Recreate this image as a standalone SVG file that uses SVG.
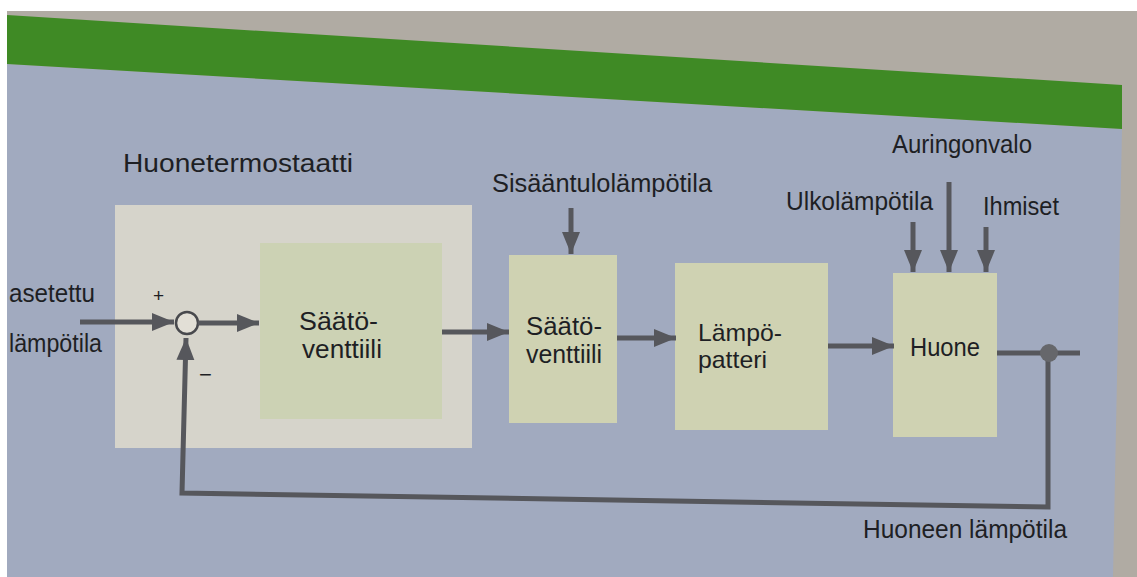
<svg xmlns="http://www.w3.org/2000/svg" width="1137" height="577" viewBox="0 0 1137 577">
<style>
text{font-family:"Liberation Sans",Arial,sans-serif;font-size:25px;fill:#1e1f24}
.ln{fill:none;stroke:#56575c;stroke-width:5}
.box{fill:#cfd2b2}
</style>
<defs>
<marker id="ah" markerUnits="userSpaceOnUse" markerWidth="24" markerHeight="20" refX="22" refY="9" orient="auto">
<path d="M0,0 L22,9 L0,18 Z" fill="#56575c"/>
</marker>
</defs>
<rect width="1137" height="577" fill="#ffffff"/>
<rect x="7" y="11" width="1130" height="566" fill="#b0aba3"/>
<polygon points="7,64 1122,129 1113,577 7,577" fill="#a1aabf"/>
<polygon points="7,15 1122,85 1122,129 7,64" fill="#3f8a25"/>

<g id="termostaatti">
<rect x="115" y="205" width="357" height="243" fill="#d6d4cb"/>
<text x="123" y="172" textLength="230" lengthAdjust="spacingAndGlyphs">Huonetermostaatti</text>
</g>
<g id="saatoventtiili1">
<rect x="260" y="243" width="182" height="176" fill="#ccd2b4"/>
<text x="299" y="330" textLength="79" lengthAdjust="spacingAndGlyphs">Säätö-</text>
<text x="302" y="358" textLength="80" lengthAdjust="spacingAndGlyphs">venttiili</text>
</g>
<g id="summing">
<circle cx="187" cy="323" r="11" fill="#e2dfd6" stroke="#48494d" stroke-width="2.5"/>
<text x="153" y="302" style="font-size:19px">+</text>
<text x="199" y="382" style="font-size:22px">−</text>
</g>
<g id="saatoventtiili2">
<rect class="box" x="509" y="255" width="108" height="168"/>
<text x="526" y="335" textLength="76" lengthAdjust="spacingAndGlyphs">Säätö-</text>
<text x="526" y="363" textLength="76" lengthAdjust="spacingAndGlyphs">venttiili</text>
</g>
<g id="lampopatteri">
<rect class="box" x="675" y="263" width="153" height="167"/>
<text x="698" y="341" style="font-size:24px" textLength="84" lengthAdjust="spacingAndGlyphs">Lämpö-</text>
<text x="698" y="368" style="font-size:24px" textLength="69" lengthAdjust="spacingAndGlyphs">patteri</text>
</g>
<g id="huone">
<rect class="box" x="893" y="273" width="104" height="164"/>
<text x="910" y="356" textLength="70" lengthAdjust="spacingAndGlyphs">Huone</text>
</g>
<g id="labels">
<text x="9" y="302" textLength="86" lengthAdjust="spacingAndGlyphs">asetettu</text>
<text x="9" y="352" textLength="93" lengthAdjust="spacingAndGlyphs">lämpötila</text>
<text x="492" y="192" textLength="220" lengthAdjust="spacingAndGlyphs">Sisääntulolämpötila</text>
<text x="786" y="210" textLength="147" lengthAdjust="spacingAndGlyphs">Ulkolämpötila</text>
<text x="892" y="153" textLength="140" lengthAdjust="spacingAndGlyphs">Auringonvalo</text>
<text x="983" y="215" textLength="76" lengthAdjust="spacingAndGlyphs">Ihmiset</text>
<text x="863" y="538" textLength="204" lengthAdjust="spacingAndGlyphs">Huoneen lämpötila</text>
</g>
<g id="connectors">
<line class="ln" x1="80" y1="322" x2="174" y2="322" marker-end="url(#ah)"/>
<line class="ln" x1="198" y1="323" x2="259" y2="323" marker-end="url(#ah)"/>
<line class="ln" x1="442" y1="332" x2="509" y2="332" marker-end="url(#ah)"/>
<line class="ln" x1="617" y1="338" x2="676" y2="338" marker-end="url(#ah)"/>
<line class="ln" x1="828" y1="346" x2="894" y2="346" marker-end="url(#ah)"/>
<line class="ln" x1="997" y1="353" x2="1080" y2="353"/>
<polyline class="ln" points="1048,353 1048,507 182,493 186,338" marker-end="url(#ah)"/>
<circle cx="1049" cy="353" r="9" fill="#66676b"/>
<line class="ln" x1="571" y1="208" x2="571" y2="254" marker-end="url(#ah)"/>
<line class="ln" x1="913" y1="222" x2="913" y2="272" marker-end="url(#ah)"/>
<line class="ln" x1="949" y1="182" x2="949" y2="272" marker-end="url(#ah)"/>
<line class="ln" x1="986" y1="227" x2="986" y2="272" marker-end="url(#ah)"/>
</g>
<rect x="0" y="0" width="7" height="577" fill="#ffffff"/>
</svg>
